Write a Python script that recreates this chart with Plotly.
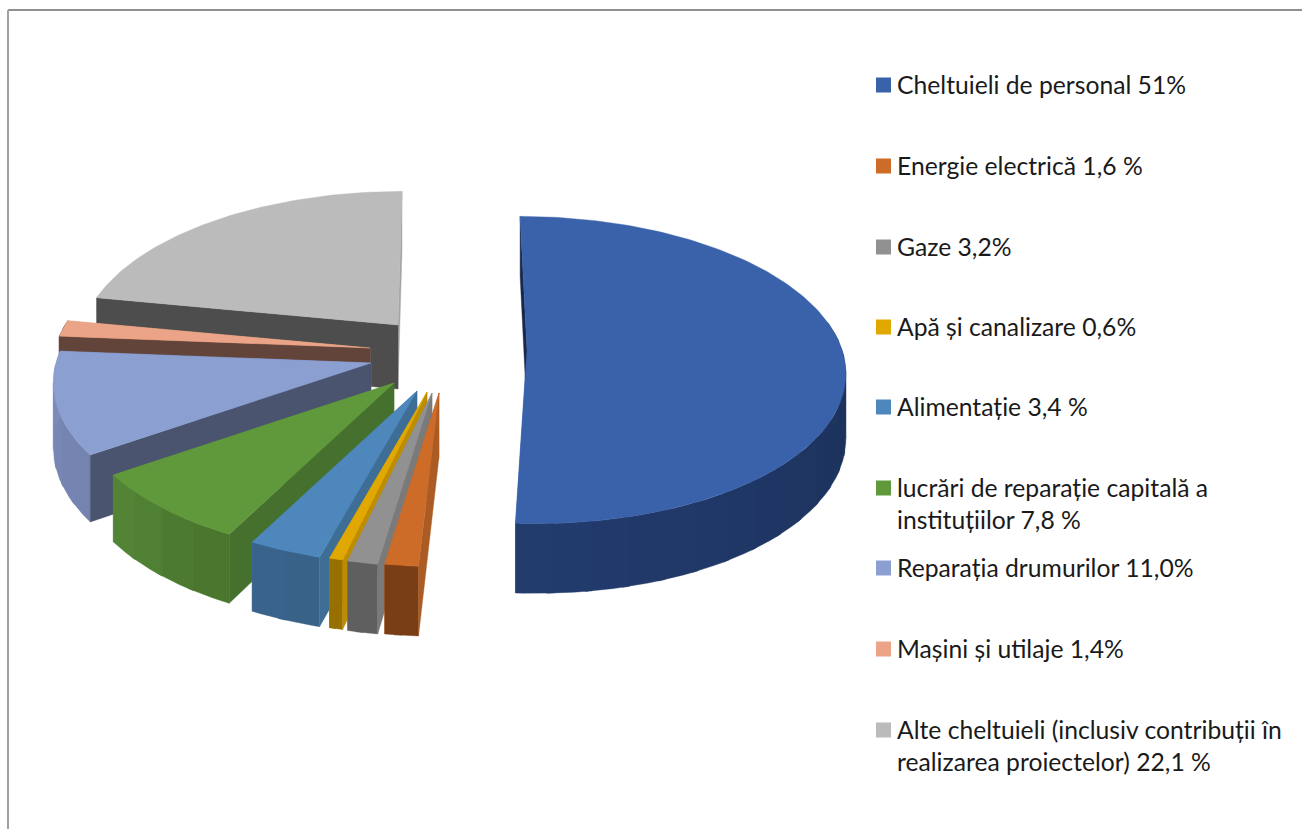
import numpy as np
import plotly.graph_objects as go

# ---- data ----
categories = ["Cheltuieli de personal", "Energie electrică", "Gaze", "Apă și canalizare",
              "Alimentație", "lucrări de reparație capitală", "Reparația drumurilor",
              "Mașini și utilaje", "Alte cheltuieli"]
slice_values = [50.9, 1.5, 1.36, 0.6, 3.3, 7.8, 10.8, 1.7, 22.04]
legend_lines = [["Cheltuieli de personal 51%"],
                ["Energie electrică 1,6 %"],
                ["Gaze 3,2%"],
                ["Apă și canalizare 0,6%"],
                ["Alimentație 3,4 %"],
                ["lucrări de reparație capitală a", "instituțiilor 7,8 %"],
                ["Reparația drumurilor 11,0%"],
                ["Mașini și utilaje 1,4%"],
                ["Alte cheltuieli (inclusiv contribuții în", "realizarea proiectelor) 22,1 %"]]

# ---- style: colours and the pulled-out position of each slice ----
top_color = ["#3A62AB", "#CD6B28", "#919191", "#E0A800", "#4D87BB", "#60993C", "#8C9FD1", "#EBA487", "#BBBBBB"]
start_face = ["#18284A", "#AA5C24", "#7A7A7A", "#BE8C00", "#3E6E96", "#46702D", "#4A546E", "#62443A", "#4D4D4D"]
end_face = ["#3A62AB", "#CD6B28", "#919191", "#E0A800", "#4D87BB", "#60993C", "#8C9FD1", "#EBA487", "#A5A5A5"]
side_left = [(34, 60, 110), (122, 62, 22), (95, 95, 95), (150, 112, 0), (58, 100, 140), (85, 135, 55),
             (125, 140, 185), (98, 68, 56), (77, 77, 77)]
side_right = [(22, 38, 70), (122, 62, 22), (95, 95, 95), (150, 112, 0), (55, 97, 135), (72, 115, 45),
              (115, 130, 175), (98, 68, 56), (77, 77, 77)]
pull_x = [527, 439, 432, 427, 417, 394, 371, 370, 398]
pull_y = [350, 393, 393, 392, 391, 383, 363, 348, 325]
vanish_x = [467, 439, 432, 427, 417, 394, 371, 370, 433]
draw_order = [8, 7, 6, 5, 4, 3, 2, 1, 0]
legend_y = [85, 166, 247, 327, 407, 488, 568, 649, 730]
LINE_STEP = 32
RX, RY, K, DEPTH = 315, 151, 0.13, 64


def project(i, theta, radius=1.0):
    X, Y = np.sin(theta) * radius, -np.cos(theta) * radius
    s = 1 / (1 - K * Y)
    return (vanish_x[i] + (pull_x[i] - vanish_x[i] + RX * X) * s,
            pull_y[i] + RY * Y * s,
            DEPTH * (1 + (s - 1) * 0.6))


fig = go.Figure()


def poly(xs, ys, color):
    fig.add_trace(go.Scatter(x=list(xs) + [xs[0]], y=list(ys) + [ys[0]], mode="lines", fill="toself",
                             fillcolor=color, line=dict(color=color, width=0.4),
                             hoverinfo="skip", showlegend=False))


def radial_face(i, theta, color):
    ox, oy, ot = project(i, theta)
    ax, ay, at = project(i, theta, 0.0)
    poly([ax, ox, ox, ax], [ay, oy, oy + ot, ay + at], color)


edges = np.concatenate([[0], np.cumsum(slice_values)]) / sum(slice_values) * 2 * np.pi

for i in draw_order:
    t0, t1 = edges[i], edges[i + 1]
    radial_face(i, t1, end_face[i])
    # outer wall, cut in strips to carry the gradient; each strip overlaps the next one
    n = max(2, int(np.degrees(t1 - t0) / 6))
    ths = np.linspace(t0, t1, n + 1)
    for a, b in zip(ths[:-1], ths[1:]):
        mid = (a + b) / 2
        if np.cos(mid) > K + 0.1:
            continue
        f = (mid - t0) / (t1 - t0)
        rgb = [round(side_right[i][c] + (side_left[i][c] - side_right[i][c]) * f) for c in range(3)]
        col = f"rgb({rgb[0]},{rgb[1]},{rgb[2]})"
        arc = np.linspace(a, min(b + 0.02, t1), 6)
        top = [project(i, t) for t in arc]
        xs = [p[0] for p in top] + [p[0] for p in top[::-1]]
        ys = [p[1] for p in top] + [p[1] + p[2] for p in top[::-1]]
        poly(xs, ys, col)
    radial_face(i, t0, start_face[i])
    # top
    arc = np.linspace(t0, t1, max(3, int(np.degrees(t1 - t0)) + 2))
    px = [project(i, t)[0] for t in arc]
    py = [project(i, t)[1] for t in arc]
    ax, ay, _ = project(i, 0.0, 0.0)
    poly([ax] + px, [ay] + py, top_color[i])

# legend
annotations = []
for i, lines in enumerate(legend_lines):
    fig.add_trace(go.Scatter(x=[883.5], y=[legend_y[i]], mode="markers",
                             marker=dict(symbol="square", size=15, color=top_color[i], line=dict(width=0)),
                             name=categories[i], hoverinfo="name", showlegend=False))
    for j, line in enumerate(lines):
        annotations.append(dict(x=897, y=legend_y[i] - 1 + j * LINE_STEP, text=line, showarrow=False,
                                xanchor="left", yanchor="middle", xref="x", yref="y", borderpad=0, borderwidth=0,
                                font=dict(family="Lato", size=24.7, color="#1a1a1a")))

fig.update_layout(
    width=1302, height=829, margin=dict(l=0, r=0, t=0, b=0),
    paper_bgcolor="white", plot_bgcolor="white", annotations=annotations,
    xaxis=dict(range=[0, 1302], visible=False, fixedrange=True),
    yaxis=dict(range=[829, 0], visible=False, fixedrange=True),
    shapes=[dict(type="line", xref="x", yref="y", x0=8, x1=1302, y0=10, y1=10,
                 line=dict(color="#8f8f8f", width=2)),
            dict(type="line", xref="x", yref="y", x0=8, x1=8, y0=10, y1=829,
                 line=dict(color="#a0a0a0", width=2))],
)
fig.write_html("out.html", include_plotlyjs=True, config=dict(displayModeBar=False),
               post_script="document.body.style.margin='0';")
